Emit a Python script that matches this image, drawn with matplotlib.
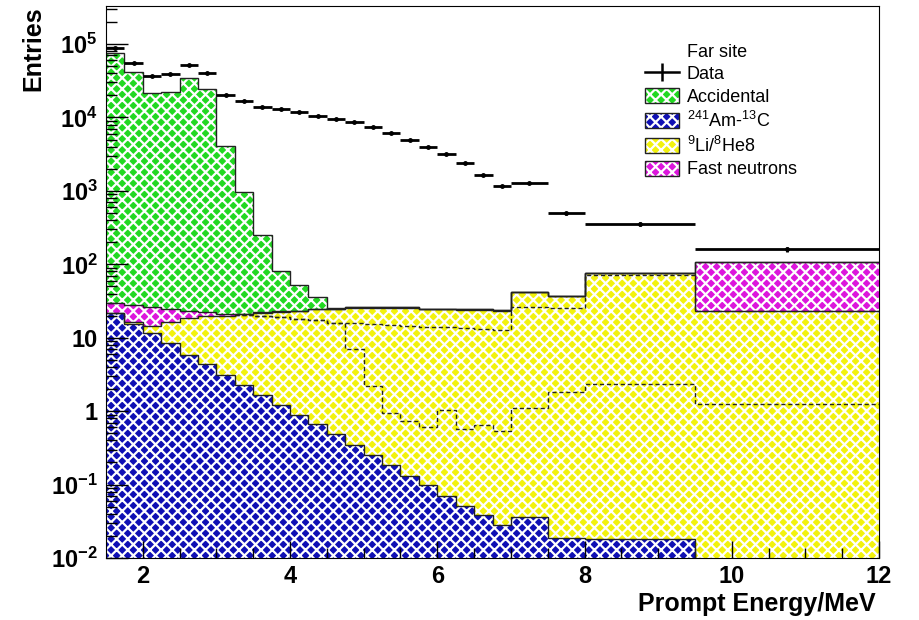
import numpy as np
import matplotlib
matplotlib.use('Agg')
import matplotlib.pyplot as plt
from matplotlib.lines import Line2D
from matplotlib.patches import Patch
from matplotlib.ticker import FixedLocator, NullFormatter, LogLocator

plt.rcParams['font.family'] = ['Liberation Sans', 'DejaVu Sans']
plt.rcParams['mathtext.fontset'] = 'custom'
plt.rcParams['mathtext.rm'] = 'Liberation Sans'
plt.rcParams['mathtext.bf'] = 'Liberation Sans:bold'
plt.rcParams['mathtext.it'] = 'Liberation Sans:italic'
plt.rcParams['hatch.linewidth'] = 1.6

# bin edges (MeV)
edges = [1.5, 1.75, 2.0, 2.25, 2.5, 2.75, 3.0, 3.25, 3.5, 3.75, 4.0, 4.25, 4.5,
         4.75, 5.0, 5.25, 5.5, 5.75, 6.0, 6.25, 6.5, 6.75, 7.0, 7.5, 8.0, 9.5, 12.0]

data = [8.8e4, 5.6e4, 3.67e4, 3.88e4, 5.2e4, 4.0e4, 2.02e4, 1.67e4, 1.38e4, 1.29e4,
        1.19e4, 1.06e4, 9.5e3, 8.8e3, 7.4e3, 6.2e3, 4.9e3, 4.0e3, 3.2e3, 2.4e3,
        1.67e3, 1.17e3, 1.27e3, 498, 355, 161]

amc = [21.7, 15.5, 11.6, 8.5, 5.9, 4.4, 3.1, 2.3, 1.68, 1.22, 0.9, 0.66, 0.49, 0.35,
       0.256, 0.187, 0.132, 0.098, 0.069, 0.051, 0.038, 0.028, 0.036, 0.019, 0.018, 0.0]

li_he = [0.3, 0.8, 2.7, 8.1, 12.9, 15.2, 16.9, 18.5, 20.0, 21.2, 22.2, 23.9, 24.1, 25.2,
         25.3, 25.4, 25.5, 24.5, 24.5, 23.9, 23.9, 23.1, 41.6, 36.6, 75.5, 23.5]

fast_n = [8.0, 11.7, 11.7, 7.8, 4.7, 2.5, 1.2, 0.4, 0.4, 0.4, 0.4, 0.4, 0.4, 0.4,
          0.4, 0.4, 0.4, 0.4, 0.4, 0.4, 0.4, 0.4, 0.4, 0.4, 0.5, 82.5]

accidental = [7.6e4, 4.1e4, 2.14e4, 2.2e4, 3.5e4, 2.42e4, 4.1e3, 950, 228, 59, 29.5, 11,
              0.3, 0.1, 0, 0, 0, 0, 0, 0, 0, 0, 0, 0, 0, 0]

# dashed component lines, bins from 3.25 MeV upward
line_a = [20.5, 20.0, 19.0, 18.2, 17.5, 16.0, 15.8, 15.5, 15.0, 14.5, 14.2, 14.0, 13.5,
          13.2, 12.7, 26.0, 25.5, 72.0, 23.0]
line_b = [20.5, 20.0, 19.0, 18.2, 17.5, 16.0, 7.0, 2.2, 0.94, 0.74, 0.6, 1.05, 0.57,
          0.65, 0.53, 1.1, 1.85, 2.35, 1.26]
line_start = 7

labels = ['Far site', 'Data', 'Accidental', r'$^{241}$Am-$^{13}$C', r'$^{9}$Li/$^{8}$He8', 'Fast neutrons']
colors = ['#22d822', '#1010b4', '#f2f20e', '#dc16dc']

yticks = [1e-2, 1e-1, 1, 10, 1e2, 1e3, 1e4, 1e5]
ytick_labels = [r'$\mathbf{10^{-2}}$', r'$\mathbf{10^{-1}}$', '1', '10',
                r'$\mathbf{10^{2}}$', r'$\mathbf{10^{3}}$', r'$\mathbf{10^{4}}$', r'$\mathbf{10^{5}}$']
xticks = [2, 4, 6, 8, 10, 12]

edges = np.array(edges)
c1 = np.array(amc)
c2 = c1 + np.array(li_he)
c3 = c2 + np.array(fast_n)
c4 = c3 + np.array(accidental)

fig = plt.figure(figsize=(9.19, 6.20), dpi=100)
ax = fig.add_axes([106 / 919, 1 - 558 / 620, 773 / 919, 552 / 620])
ax.set_yscale('log')
ax.set_xlim(1.5, 12)
ax.set_ylim(1e-2, 3.3e5)

floor = np.full(len(c1), 1e-4)
stack = [(floor, c1, colors[1]), (c1, c2, colors[2]), (c2, c3, colors[3]), (c3, c4, colors[0])]
for lo, hi, col in stack:
    ax.stairs(hi, edges, baseline=lo, fill=True, facecolor=col, edgecolor='white',
              hatch='xxx', linewidth=0, zorder=1)
for hi in [c1, c2, c3, c4]:
    ax.stairs(np.where(hi > 0, hi, 1e-6), edges, baseline=None, color='#222222', lw=1.0, zorder=2)

ax.stairs(line_a, edges[line_start:], baseline=None, color='#222222', lw=1.0,
          linestyle=(0, (3, 2)), zorder=2)
ax.stairs(line_b, edges[line_start:], baseline=None, color='#222222', lw=1.0,
          linestyle=(0, (3, 2)), zorder=2)

centers = 0.5 * (edges[1:] + edges[:-1])
halfw = 0.5 * (edges[1:] - edges[:-1])
data = np.array(data)
ax.errorbar(centers, data, xerr=halfw, yerr=np.sqrt(data), fmt='o', ms=2.5,
            color='black', elinewidth=2.0, capsize=0, zorder=5)

ax.yaxis.set_major_locator(FixedLocator(yticks))
ax.set_yticklabels(ytick_labels)
ax.yaxis.set_minor_locator(LogLocator(base=10, subs=np.arange(2, 10), numticks=20))
ax.yaxis.set_minor_formatter(NullFormatter())
ax.set_xticks(xticks)
ax.set_xticklabels([str(t) for t in xticks])
ax.xaxis.set_minor_locator(FixedLocator(np.arange(2, 12.01, 0.5)))

ax.tick_params(axis='both', which='both', direction='in', width=1, labelsize=17)
ax.tick_params(axis='y', which='major', length=16, pad=6)
ax.tick_params(axis='y', which='minor', length=8)
ax.tick_params(axis='x', which='major', length=12, pad=5)
ax.tick_params(axis='x', which='minor', length=7)
for lab in ax.get_xticklabels() + ax.get_yticklabels():
    lab.set_fontweight('bold')

ax.set_xlabel('Prompt Energy/MeV', fontsize=18, fontweight='bold', loc='right')
ax.xaxis.set_label_coords(0.995, -0.062)
ax.set_ylabel('Entries', fontsize=18, fontweight='bold', loc='top')
ax.yaxis.set_label_coords(-0.078, 1.0)

data_handle = Line2D([], [], color='black', lw=1.8, marker='|', ms=13, mew=1.8)
handles = [Line2D([], [], linestyle='none'), data_handle]
for col in [colors[0], colors[1], colors[2], colors[3]]:
    handles.append((Patch(facecolor=col, edgecolor='white', hatch='xxx', lw=0),
                    Patch(facecolor='none', edgecolor='#222222', lw=1.0)))
leg = ax.legend(handles, labels, loc='upper left', bbox_to_anchor=(645 / 919, 1 - 43 / 620),
                bbox_transform=fig.transFigure, frameon=False, fontsize=13,
                handlelength=1.9, handleheight=0.9, handletextpad=0.4,
                labelspacing=0.27, borderpad=0, borderaxespad=0)

fig.savefig('out.png', dpi=100)
